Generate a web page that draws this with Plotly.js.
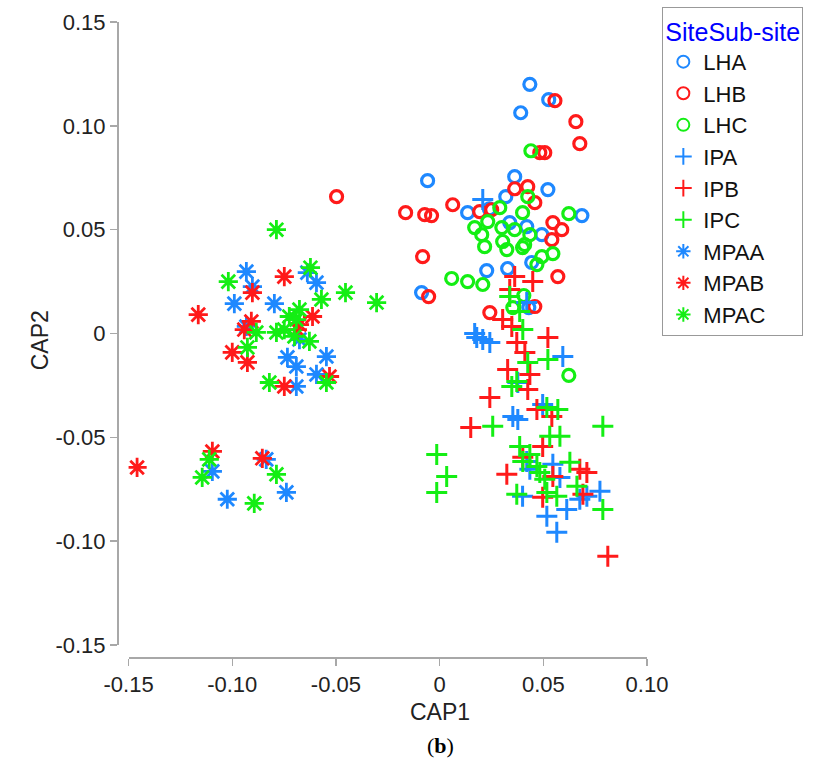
<!DOCTYPE html>
<html>
<head>
<meta charset="utf-8">
<script src="https://cdn.plot.ly/plotly-3.0.1.min.js"></script>
<style>html,body{margin:0;padding:0;background:#fff;}#chart{width:835px;height:766px;}</style>
</head>
<body>
<div id="chart"></div>
<script>
// ---- Data (CAP1, CAP2) ----
const seriesNames = ["LHA","LHB","LHC","IPA","IPB","IPC","MPAA","MPAB","MPAC"];

const lhaX = [0.0435,0.0526,0.0391,-0.0058,0.0362,0.0522,0.0135,0.0319,0.0338,0.042,0.0493,0.0686,0.0227,0.0328,-0.0087,0.043,0.0444,0.024];
const lhaY = [0.120,0.1126,0.1063,0.0736,0.0755,0.0693,0.0582,0.0659,0.0534,0.0515,0.0476,0.0568,0.0303,0.0313,0.0197,0.0125,0.0342,0.060];

const lhbX = [0.0556,0.0657,0.0676,0.0483,0.0507,-0.0497,-0.0164,-0.0072,-0.0039,0.0063,0.0193,0.0251,0.0362,0.0425,0.0459,0.0546,0.0589,0.0541,-0.0082,0.057,-0.0053,0.0242,0.0459];
const lhbY = [0.1121,0.102,0.0914,0.0871,0.0871,0.0659,0.0582,0.0572,0.0568,0.0620,0.0587,0.0596,0.0697,0.0707,0.0630,0.0534,0.050,0.0452,0.037,0.0274,0.0178,0.0101,0.013];

const lhcX = [0.044,0.0425,0.029,0.040,0.0623,0.0169,0.0203,0.0232,0.0217,0.030,0.0304,0.0324,0.0362,0.041,0.0435,0.040,0.0546,0.0493,0.0469,0.0058,0.0135,0.0208,0.0623,0.0406,0.0353];
const lhcY = [0.088,0.0659,0.0606,0.0582,0.0577,0.051,0.0476,0.0539,0.0418,0.051,0.0443,0.0404,0.050,0.0428,0.0476,0.0414,0.0385,0.037,0.0332,0.0265,0.025,0.0236,-0.0202,0.0183,0.0125];

const ipaX = [0.0208,0.042,0.0169,0.0179,0.0208,0.0242,0.0594,0.0377,0.0497,0.0353,0.0377,0.042,0.0546,0.0435,0.058,0.0773,0.071,0.0676,0.040,0.0613,0.0517,0.0565];
const ipaY = [0.0645,0.0149,0.0,-0.0019,-0.0029,-0.0043,-0.0111,-0.0236,-0.0342,-0.0399,-0.0414,-0.0616,-0.063,-0.0654,-0.0693,-0.076,-0.0784,-0.0798,-0.0784,-0.0847,-0.088,-0.0957];

const ipbX = [0.0362,0.0449,0.0338,0.0304,0.0348,0.0522,0.0372,0.0411,0.0328,0.0435,0.0425,0.0242,0.0469,0.015,0.0541,0.0497,0.0401,0.0324,0.0546,0.0676,0.071,0.0497,0.0691,0.0811];
const ipbY = [0.0274,0.025,0.0212,0.0067,0.0034,-0.0019,-0.0043,-0.0091,-0.0173,-0.0197,-0.0269,-0.0308,-0.0366,-0.0452,-0.0399,-0.0544,-0.0596,-0.0678,-0.0688,-0.0654,-0.0669,-0.0789,-0.0774,-0.1073];

const ipcX = [0.0338,0.0386,0.0401,0.0425,0.0522,0.0372,0.0348,0.0256,0.0787,0.0517,0.057,0.0531,0.058,0.0386,0.0401,0.0469,0.0483,0.0628,0.0372,0.0517,0.0565,0.0662,0.0787,0.0034,-0.0014,-0.0014,0.0435,0.0507];
const ipcY = [0.0178,0.0106,0.0019,-0.0139,-0.0125,-0.0231,-0.0255,-0.0447,-0.0447,-0.0356,-0.0366,-0.0495,-0.0495,-0.0544,-0.0616,-0.064,-0.0669,-0.062,-0.0774,-0.0765,-0.0784,-0.0736,-0.0847,-0.0688,-0.0582,-0.0765,-0.0582,-0.0702];

const mpaaX = [-0.0932,-0.0903,-0.099,-0.0797,-0.0638,-0.0594,-0.0932,-0.0734,-0.0691,-0.0546,-0.0691,-0.0594,-0.1096,-0.1024,-0.0836,-0.0739,-0.0676];
const mpaaY = [0.0298,0.0226,0.0144,0.0144,0.0293,0.0245,0.0034,-0.0115,-0.0159,-0.0111,-0.0255,-0.0197,-0.0664,-0.0798,-0.0606,-0.0765,-0.0029];

const mpabX = [-0.0749,-0.0903,-0.1164,-0.0908,-0.0942,-0.0613,-0.0676,-0.100,-0.0927,-0.0749,-0.0531,-0.0686,-0.1096,-0.1459,-0.0855];
const mpabY = [0.0274,0.0197,0.0091,0.0058,0.0019,0.0082,0.0043,-0.0091,-0.0139,-0.0255,-0.0207,0.0019,-0.0568,-0.0645,-0.0601];

const mpacX = [-0.0787,-0.1019,-0.0623,-0.057,-0.0454,-0.0304,-0.0884,-0.0927,-0.0787,-0.0725,-0.0691,-0.0749,-0.070,-0.0628,-0.0821,-0.0546,-0.0676,-0.1111,-0.1145,-0.0894,-0.0787];
const mpacY = [0.050,0.025,0.0317,0.0164,0.0197,0.0149,0.0005,-0.0067,0.0005,0.0082,0.0067,0.0019,-0.0014,-0.0038,-0.0236,-0.0236,0.0115,-0.0606,-0.0693,-0.0818,-0.0678];

const xTickVals = [-0.15,-0.10,-0.05,0,0.05,0.10];
const xTickText = ["-0.15","-0.10","-0.05","0","0.05","0.10"];
const yTickVals = [-0.15,-0.10,-0.05,0,0.05,0.10,0.15];
const yTickText = ["-0.15","-0.10","-0.05","0","0.05","0.10","0.15"];

// ---- Styles ----
const BLUE = "#1e88ff", RED = "#ff1a1a", GREEN = "#14ee14";
const xs = [lhaX,lhbX,lhcX,ipaX,ipbX,ipcX,mpaaX,mpabX,mpacX];
const ys = [lhaY,lhbY,lhcY,ipaY,ipbY,ipcY,mpaaY,mpabY,mpacY];
const colors = [BLUE,RED,GREEN,BLUE,RED,GREEN,BLUE,RED,GREEN];
const symbols = ["circle-open","circle-open","circle-open","cross-thin-open","cross-thin-open","cross-thin-open","asterisk-open","asterisk-open","asterisk-open"];
const sizes = [12,12,12,15,15,15,16,16,16];
const widths = [3.2,3.2,3.2,3,3,3,2.8,2.8,2.8];

const traces = seriesNames.map((name,i) => ({
  type: "scatter", mode: "markers", name: name, x: xs[i], y: ys[i],
  marker: {symbol: symbols[i], size: sizes[i], color: colors[i], line: {color: colors[i], width: widths[i]}},
  hoverinfo: "skip"
}));

const FONT = "Liberation Sans, Arial, sans-serif";
const layout = {
  width: 835, height: 766,
  margin: {l: 118, r: 188, t: 22, b: 108, autoexpand: false},
  paper_bgcolor: "#fff", plot_bgcolor: "#fff",
  font: {family: FONT, size: 20, color: "#222"},
  showlegend: true,
  xaxis: {
    domain: [0.02, 1], range: [-0.15, 0.10], anchor: "free", position: 0,
    showgrid: false, zeroline: false, showline: true, linecolor: "#a8a8a8", linewidth: 2,
    ticks: "outside", ticklen: 7, tickcolor: "#a8a8a8", tickwidth: 1.5,
    tickvals: xTickVals, ticktext: xTickText,
    tickfont: {family: FONT, size: 22, color: "#222"}
  },
  yaxis: {
    domain: [0.0204, 1], range: [-0.15, 0.15], anchor: "free", position: 0,
    showgrid: false, zeroline: false, showline: true, linecolor: "#a8a8a8", linewidth: 2,
    ticks: "outside", ticklen: 7, tickcolor: "#a8a8a8", tickwidth: 1.5,
    tickvals: yTickVals, ticktext: yTickText,
    tickfont: {family: FONT, size: 22, color: "#222"}
  },
  legend: {
    x: 1.029, y: 1.023, xanchor: "left", yanchor: "top",
    bgcolor: "#fff", bordercolor: "#999", borderwidth: 1,
    font: {family: FONT, size: 22, color: "#111"},
    title: {text: "SiteSub-site", font: {family: FONT, size: 25, color: "#0000ff"}},
    tracegroupgap: 0, itemwidth: 30, itemsizing: "constant"
  },
  annotations: [
    {xref: "paper", yref: "paper", x: 0.609, y: -0.085, xanchor: "center", yanchor: "middle",
     text: "CAP1", showarrow: false, font: {family: FONT, size: 23, color: "#222"}},
    {xref: "paper", yref: "paper", x: -0.147, y: 0.5, xanchor: "center", yanchor: "middle",
     text: "CAP2", textangle: -90, showarrow: false, font: {family: FONT, size: 23, color: "#222"}},
    {xref: "paper", yref: "paper", x: 0.609, y: -0.137, xanchor: "center", yanchor: "middle",
     text: "(<b>b</b>)", showarrow: false,
     font: {family: "Liberation Serif, Times New Roman, serif", size: 22, color: "#000"}}
  ]
};

Plotly.newPlot("chart", traces, layout, {staticPlot: true, displayModeBar: false});
</script>
</body>
</html>
